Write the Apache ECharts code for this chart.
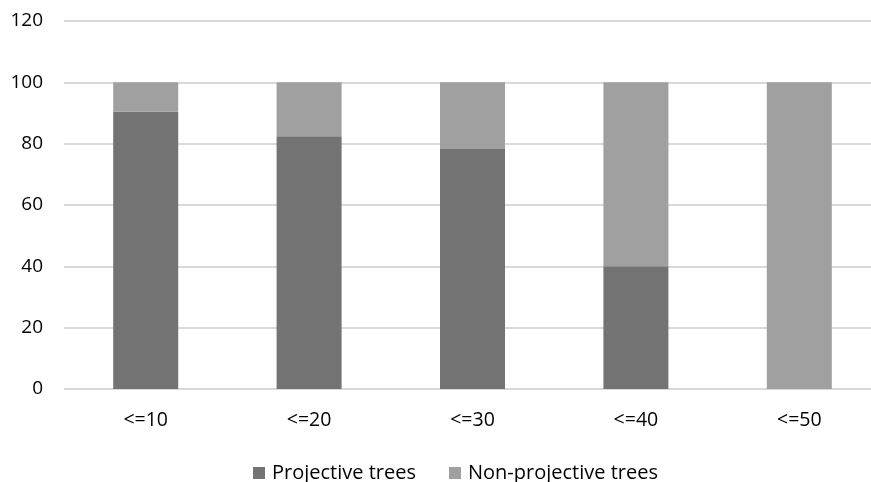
<!DOCTYPE html>
<html>
<head>
<meta charset="utf-8">
<script src="https://cdn.jsdelivr.net/npm/echarts@6/dist/echarts.min.js"></script>
<style>
  html, body { margin: 0; padding: 0; background: #fff; overflow: hidden; }
  #chart { width: 882px; height: 482px; }
</style>
</head>
<body>
<div id="chart"></div>
<script>
// Sentence length buckets
const categories = ['<=10', '<=20', '<=30', '<=40', '<=50'];
// Share of trees (%) per bucket
const projective = [90.4, 82.4, 78.3, 40, 0];
const nonProjective = [9.6, 17.6, 21.7, 60, 100];
const yTicks = { min: 0, max: 120, interval: 20 };

const font = '"Open Sans", Lato, sans-serif';
const chart = echarts.init(document.getElementById('chart'));
chart.setOption({
  animation: false,
  backgroundColor: '#ffffff',
  grid: { left: 64, top: 21, right: 1, bottom: 93, containLabel: false },
  legend: {
    top: 458,
    left: 248,
    itemWidth: 12,
    itemHeight: 12,
    itemGap: 33,
    icon: 'rect',
    textStyle: { fontFamily: font, fontSize: 20, color: '#000', padding: [0, 0, 0, 2] },
    data: ['Projective trees', 'Non-projective trees']
  },
  xAxis: {
    type: 'category',
    data: categories,
    axisLine: { show: false },
    axisTick: { show: false },
    axisLabel: { fontFamily: font, fontSize: 19.5, color: '#000', margin: 21 }
  },
  yAxis: {
    type: 'value',
    min: yTicks.min,
    max: yTicks.max,
    interval: yTicks.interval,
    axisLine: { show: false },
    axisTick: { show: false },
    splitLine: { lineStyle: { color: '#d9d9d9', width: 2 } },
    axisLabel: { fontFamily: font, fontSize: 19, color: '#000', margin: 21 }
  },
  series: [
    {
      name: 'Projective trees',
      type: 'bar',
      stack: 'total',
      barWidth: 65,
      data: projective,
      itemStyle: { color: '#737373' }
    },
    {
      name: 'Non-projective trees',
      type: 'bar',
      stack: 'total',
      barWidth: 65,
      data: nonProjective,
      itemStyle: { color: '#a0a0a0' }
    }
  ]
});
</script>
</body>
</html>
